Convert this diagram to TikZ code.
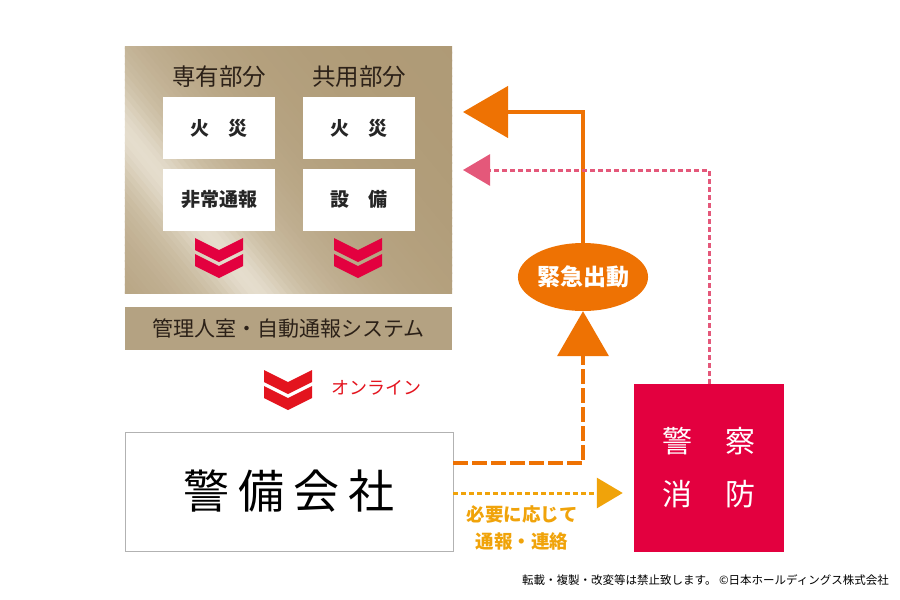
\documentclass[tikz,border=0pt]{standalone}
\usepackage{fontspec}
\setmainfont{Noto Sans CJK JP}
\usetikzlibrary{arrows.meta,shapes.geometric}

% colours
\definecolor{goldD}{HTML}{AD9873}
\definecolor{goldL}{HTML}{E4DCCB}
\definecolor{barG}{HTML}{B4A282}
\definecolor{crim}{HTML}{E3003F}
\definecolor{redon}{HTML}{E3141E}
\definecolor{orng}{HTML}{EE7203}
\definecolor{pinkd}{HTML}{E4587A}
\definecolor{yell}{HTML}{F0A30A}
\definecolor{brownt}{HTML}{2C2118}

\tikzset{
  panelbox/.style={fill=goldD,minimum width=327pt,minimum height=246pt,inner sep=0pt},
  whitebox/.style={fill=white,minimum width=112pt,minimum height=62pt,inner sep=0pt,
    text=black!85,font=\fontsize{19}{19}\selectfont\bfseries},
  headtext/.style={text=brownt,font=\fontsize{23.5}{23.5}\selectfont},
  chevron/.pic={
    \foreach \s in {0,16}{
      \fill (-24,\s) -- (0,12+\s) -- (24,\s) -- (24,12+\s) -- (0,24+\s) -- (-24,12+\s) -- cycle;
    }
  }
}

\begin{document}
\begin{tikzpicture}[x=1pt,y=-1pt,line join=miter]
\useasboundingbox (0,0) rectangle (900,600);

% gold panel with a diagonal sheen
\node[panelbox] (panel) at (288.5,170) {};
\begin{scope}
  \clip (panel.north west) rectangle (panel.south east);
  \foreach \o in {-110,-105,...,320}{
    \pgfmathtruncatemacro\lite{70/(1+(\o/32)^2)+32/(1+(\o/100)^2)}
    \fill[goldL!\lite!goldD]
      ({190+\o*0.773-300*0.635},{215-\o*0.635-300*0.773}) --
      ({190+(\o+6)*0.773-300*0.635},{215-(\o+6)*0.635-300*0.773}) --
      ({190+(\o+6)*0.773+300*0.635},{215-(\o+6)*0.635+300*0.773}) --
      ({190+\o*0.773+300*0.635},{215-\o*0.635+300*0.773}) -- cycle;
  }
\end{scope}

% the four alarm sources
\node[headtext] (privhead) at (219,77) {専有部分};
\node[headtext] (pubhead) at (359,77) {共用部分};
\node[whitebox] (priv1) at (219,128) {火\hspace{1em}災};
\node[whitebox] (priv2) at (219,199.5) {非常通報};
\node[whitebox] (pub1) at (359,128) {火\hspace{1em}災};
\node[whitebox] (pub2) at (359,199.5) {設\hspace{1em}備};
\pic[crim] at (219,238) {chevron};
\pic[crim] at (358,238) {chevron};

% management bar
\node[fill=barG,minimum width=327pt,minimum height=43pt,inner sep=0pt,text=brownt,
  font=\fontsize{21}{21}\selectfont] (bar) at (288.5,328.5) {管理人室・自動通報システム};

% online link
\pic[redon] at (288,370) {chevron};
\node[text=redon,font=\fontsize{18}{18}\selectfont] (online) at (376,388) {オンライン};

% security company
\node[draw=black!30,line width=0.8pt,minimum width=328pt,minimum height=119pt,inner sep=0pt,
  font=\fontsize{46}{46}\selectfont] (keibi) at (289,491.5)
  {警\hspace{9pt}備\hspace{9pt}会\hspace{9pt}社};

% police / fire
\node[fill=crim,minimum width=150pt,minimum height=168pt,inner sep=0pt,text=white,
  align=center,font=\fontsize{30}{53}\selectfont] (police) at (709,468)
  {警\hspace{33pt}察\\消\hspace{33pt}防};

% emergency dispatch
\node[ellipse,fill=orng,minimum width=127pt,minimum height=68pt,inner sep=0pt,text=white,
  font=\fontsize{23}{23}\selectfont\bfseries] (kinkyu) at (583,277) {緊急出動};

% arrow end points at the panel
\coordinate (emtip) at (463,112);
\coordinate (reptip) at (463,170);
\coordinate (ys) at ([yshift=-1.5pt]keibi.east);

\draw[orng,line width=4.5pt,-{Triangle[length=45pt,width=51pt]}] (kinkyu.north) |- (emtip);
\draw[orng,line width=4pt,dash pattern=on 15pt off 4pt,-{Triangle[length=45pt,width=51pt]}]
  ([yshift=28.5pt]keibi.east) -| (kinkyu.south);
\draw[pinkd,line width=3pt,dash pattern=on 5pt off 3pt,-{Triangle[length=27pt,width=31pt]}]
  (police.north) |- (reptip);
\draw[yell,line width=3pt,dash pattern=on 5pt off 3pt,shorten >=11pt,
  -{Triangle[length=26pt,width=30pt]}] (ys) -- (ys -| police.west);

\node[text=yell,align=center,font=\fontsize{18.5}{27}\selectfont\bfseries] (note) at (522,528)
  {必要に応じて\\通報・連絡};

% credit line
\node[font=\fontsize{11.5}{11.5}\selectfont] (credit) at (705.5,580)
  {転載・複製・改変等は禁止致します。 ©日本ホールディングス株式会社};

\end{tikzpicture}
\end{document}
